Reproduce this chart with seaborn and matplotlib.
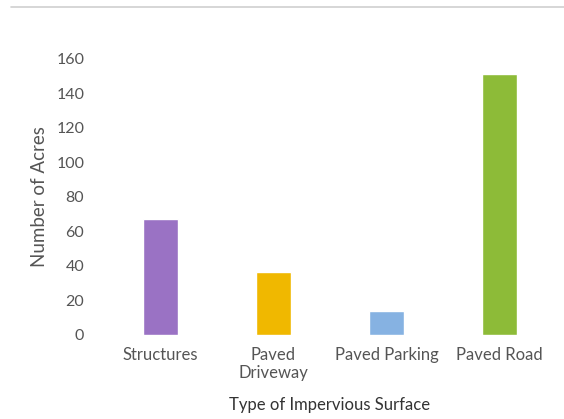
import pandas as pd
import matplotlib.pyplot as plt
import seaborn as sns
from matplotlib.lines import Line2D

categories = ["Structures", "Paved\nDriveway", "Paved Parking", "Paved Road"]
acres = [67, 36.5, 14, 151.5]
colors = ["#9a72c4", "#f0b800", "#86b2e2", "#8dbb38"]
yticks = [0, 20, 40, 60, 80, 100, 120, 140, 160]

df = pd.DataFrame({"surface": categories, "acres": acres})

sns.set_style("white")
plt.rcParams['font.family'] = ['Lato', 'DejaVu Sans']

fig = plt.figure(figsize=(5.64, 4.19), dpi=100)
ax = fig.add_axes([0.184, 0.2005, 0.802, 0.659])

sns.barplot(data=df, x="surface", y="acres", hue="surface", palette=colors,
            width=0.31, legend=False, ax=ax, saturation=1)

ax.set_ylim(0, 160)
ax.set_xlim(-0.5, 3.5)
ax.set_yticks(yticks)
ax.set_yticklabels([str(t) for t in yticks], fontsize=11.5, color="#555555")
ax.tick_params(axis="x", labelsize=12, colors="#555555", length=0, pad=9)
ax.tick_params(axis="y", length=0, pad=14)
for lbl in ax.get_xticklabels():
    lbl.set_linespacing(1.1)
sns.despine(ax=ax, left=True, bottom=True)
ax.set_ylabel("Number of Acres", fontsize=13.5, color="#555555", labelpad=6)
ax.set_xlabel("Type of Impervious Surface", fontsize=12, color="#333333", labelpad=12)

# thin frame line at the top of the image
fig.add_artist(Line2D([0.02, 1.0], [0.983, 0.983], color="#d0d0d0", linewidth=1.2,
                      transform=fig.transFigure))

fig.savefig("out.png", dpi=100)
